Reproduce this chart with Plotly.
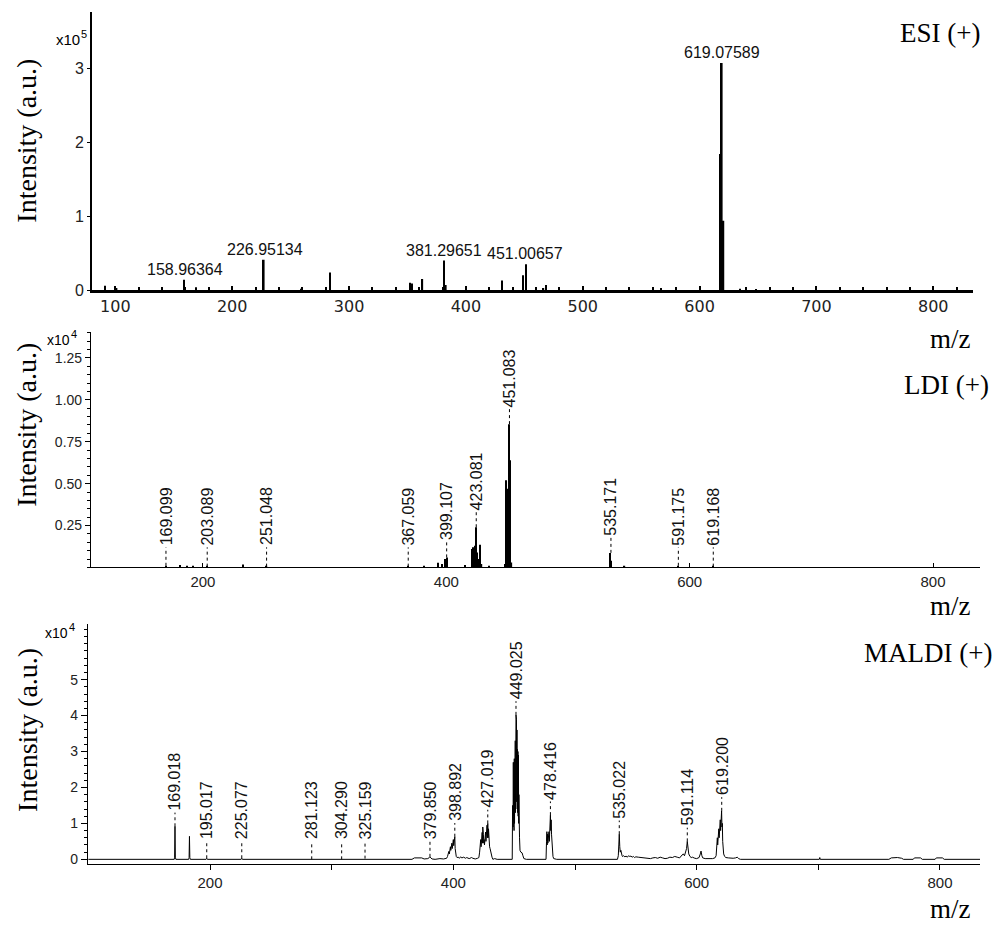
import plotly.graph_objects as go

# ---------------- data ----------------
# ESI (+) : stick spectrum, intensity in units of 1e5
esi_mz = [91, 101, 158.8, 169, 227.0, 259.4, 283.6, 352.3, 354.0, 362.7, 381.4, 382.8,
          431.0, 448.8, 451.4, 466.3, 468.6, 567, 617.6, 619.0, 620.4, 634.7, 648.4]
esi_int = [0.06, 0.03, 0.14, 0.04, 0.41, 0.02, 0.24, 0.10, 0.09, 0.15, 0.40, 0.07,
           0.13, 0.20, 0.35, 0.03, 0.07, 0.03, 1.84, 3.07, 0.94, 0.02, 0.015]
esi_label_text = ["158.96364", "226.95134", "381.29651", "451.00657", "619.07589"]
esi_label_mz = [159.3, 228.0, 381.0, 450.6, 619.0]
esi_label_int = [0.14, 0.41, 0.40, 0.35, 3.07]

# LDI (+) : stick spectrum, intensity in units of 1e4
ldi_mz = [169.6, 181.1, 186.6, 192.0, 203.5, 232.6, 252.3, 368.7, 381.9, 393.5, 396.7,
          398.9, 400.3, 415.3, 421.1, 422.2, 423.3, 424.3, 425.5, 426.8, 427.9, 429.0,
          435.1, 448.3, 449.4, 450.4, 451.6, 452.6, 453.6, 534.5, 535.6, 546.5, 590.7, 619.4]
ldi_int = [0.01, 0.015, 0.01, 0.01, 0.005, 0.018, 0.005, 0.005, 0.01, 0.028, 0.02,
           0.05, 0.06, 0.015, 0.11, 0.12, 0.13, 0.24, 0.09, 0.05, 0.135, 0.02,
           0.01, 0.02, 0.52, 0.47, 0.855, 0.64, 0.03, 0.087, 0.04, 0.01, 0.01, 0.005]
ldi_label_text = ["169.099", "203.089", "251.048", "367.059", "399.107", "423.081",
                  "451.083", "535.171", "591.175", "619.168"]
ldi_label_mz = [169.6, 203.5, 252.3, 368.7, 400.3, 424.6, 451.9, 535.3, 590.7, 619.4]
ldi_label_int = [0.01, 0.005, 0.005, 0.005, 0.06, 0.24, 0.855, 0.087, 0.01, 0.005]

# MALDI (+) : profile spectrum, intensity in units of 1e4
maldi_mz = [100, 170.6, 170.9, 171.2, 171.5, 171.9, 182.5, 182.8, 183.1, 183.4, 183.8,
            196.8, 197.3, 197.8, 225.6, 226.1, 226.6, 326.9, 327.4, 327.9,
            366, 368, 371, 374, 376, 379, 380.3, 380.8, 381.5, 382.5, 385, 389, 392,
            394.5, 395.2, 395.8, 396.3, 396.7, 397.0, 397.3, 397.6, 397.9, 398.2, 398.5,
            398.8, 399.1, 399.4, 399.7, 400.0, 400.3, 400.6, 400.9, 401.2, 401.5, 401.9,
            402.4, 403, 404, 405, 406, 407, 408.5, 410, 411, 413, 415, 416, 418, 420,
            421.0, 421.6, 421.9, 422.2, 422.5, 422.8, 423.1, 423.4, 423.7, 424.0, 424.2,
            424.4, 424.7, 425.0, 425.3, 425.6, 425.9, 426.2, 426.5, 426.8, 427.1, 427.4,
            427.7, 428.0, 428.3, 428.6, 428.9, 429.2, 429.5, 429.8, 430.2, 430.7, 431.2,
            431.8, 432.5, 434, 436,
            448.4, 448.7, 448.9, 449.1, 449.3, 449.5, 449.7, 449.9, 450.1, 450.3, 450.5,
            450.7, 450.9, 451.1, 451.3, 451.5, 451.7, 451.9, 452.1, 452.3, 452.5, 452.7,
            452.9, 453.1, 453.3, 453.5, 453.7, 453.9, 454.1, 454.4, 454.8, 455.5, 456.5,
            457.2, 458, 460,
            476.2, 476.6, 476.9, 477.1, 477.4, 477.7, 478.0, 478.3, 478.6, 478.9, 479.2,
            479.5, 479.8, 480.1, 480.4, 480.7, 481.0, 481.4, 481.9, 482.5, 485,
            534.9, 535.6, 536.0, 536.4, 536.8, 537.2, 537.7, 538.2, 538.7,
            539, 540, 541, 542, 543, 544, 545, 546, 547, 548, 549, 550, 552, 554, 556,
            558, 560, 562, 564, 566, 568, 570, 572, 574, 576, 578, 580, 582, 584, 586,
            588, 589, 590, 591.0, 591.7, 592.3, 592.9, 593.5, 594.5, 595.5, 596.5, 597.5,
            598.5, 600, 602, 603.0, 603.6, 604.3, 605, 607, 609, 611, 613, 615, 616,
            616.6, 617.0, 617.3, 617.6, 617.9, 618.2, 618.5, 618.8, 619.1, 619.4, 619.7,
            620.0, 620.3, 620.5, 620.8, 621.1, 621.4, 621.7, 622.2, 623, 624, 626, 628,
            630, 632, 633.4, 634.5, 636,
            700.8, 701.2, 701.6, 758, 760, 765, 768.5, 770, 778, 779, 784, 785.5,
            796, 797, 802, 803.5, 833]
maldi_int = [0, 0, 0.06, 0.92, 0.06, 0, 0, 0.05, 0.64, 0.05, 0,
             0, 0.03, 0, 0, 0.03, 0, 0, 0.02, 0,
             0, 0.04, 0.05, 0.04, 0.01, 0.02, 0.05, 0.07, 0.04, 0.01, 0.0, 0.02, 0.01,
             0.03, 0.08, 0.15, 0.22, 0.15, 0.30, 0.20, 0.35, 0.25, 0.40, 0.28,
             0.45, 0.30, 0.50, 0.35, 0.55, 0.38, 0.60, 0.40, 0.63, 0.30, 0.15,
             0.08, 0.05, 0.06, 0.03, 0.07, 0.04, 0.06, 0.03, 0.05, 0.02, 0.05, 0.03, 0.01, 0.03,
             0.05, 0.20, 0.40, 0.30, 0.55, 0.35, 0.60, 0.40, 0.75, 0.45, 0.90,
             0.50, 0.70, 0.45, 0.55, 0.40, 0.70, 0.45, 0.76, 0.50, 0.70, 0.55,
             0.95, 0.60, 1.00, 0.60, 0.85, 0.50, 0.60, 0.35, 0.30, 0.20, 0.12,
             0.06, 0.0, 0.02, 0.0,
             0.0, 1.5, 2.7, 0.9, 2.7, 1.2, 2.6, 0.8, 2.8, 1.0, 3.0,
             1.1, 3.3, 1.3, 3.8, 4.02, 1.5, 3.9, 1.6, 3.6, 1.4, 3.06,
             1.3, 3.0, 1.2, 2.9, 1.0, 1.8, 1.23, 0.6, 0.25, 0.2, 0.18,
             0.1, 0.02, 0.0,
             0.0, 0.5, 0.77, 0.4, 0.7, 0.45, 0.6, 0.45, 0.77, 0.5, 0.9,
             0.6, 1.23, 0.8, 1.1, 0.7, 0.4, 0.2, 0.08, 0.02, 0.0,
             0.0, 0.1, 0.4, 0.7, 0.35, 0.2, 0.25, 0.12, 0.1,
             0.08, 0.1, 0.07, 0.09, 0.06, 0.1, 0.08, 0.09, 0.06, 0.08, 0.05, 0.07, 0.06, 0.05, 0.04,
             0.02, 0.03, 0.02, 0.04, 0.05, 0.03, 0.06, 0.04, 0.02, 0.03, 0.06, 0.05, 0.08, 0.06, 0.04,
             0.12, 0.15, 0.1, 0.2, 0.3, 0.5, 0.2, 0.15, 0.08, 0.05, 0.06, 0.04,
             0.03, 0.02, 0.05, 0.15, 0.23, 0.1, 0.04, 0.02, 0.03, 0.02, 0.02, 0.04, 0.1,
             0.3, 0.6, 0.4, 0.75, 0.5, 0.85, 0.6, 0.95, 0.7, 1.1, 0.8,
             1.25, 0.9, 1.35, 0.9, 1.0, 0.5, 0.35, 0.15, 0.08, 0.05, 0.04, 0.03,
             0.03, 0.04, 0.06, 0.02, 0.0,
             0, 0.05, 0, 0, 0.04, 0.05, 0.03, 0, 0, 0.04, 0.04, 0,
             0, 0.04, 0.04, 0, 0]
maldi_label_text = ["169.018", "195.017", "225.077", "281.123", "304.290", "325.159",
                    "379.850", "398.892", "427.019", "449.025", "478.416", "535.022",
                    "591.114", "619.200"]
maldi_label_mz = [171.2, 197.3, 226.1, 283.6, 308.2, 327.4, 380.8, 401.2, 428.3,
                  451.5, 479.8, 536.4, 592.3, 620.6]
maldi_label_int = [0.92, 0.03, 0.03, 0.0, 0.0, 0.02, 0.07, 0.63, 1.0, 4.02, 1.23,
                   0.7, 0.5, 1.35]

esi_ticks = [100, 200, 300, 400, 500, 600, 700, 800]
ldi_xticks = [200, 400, 600, 800]
ldi_yticks = [0.25, 0.5, 0.75, 1.0, 1.25]
ldi_yticktext = ["0.25", "0.50", "0.75", "1.00", "1.25"]
maldi_xticks = [200, 400, 600, 800]
maldi_xminor = [300, 500, 700]
maldi_yticks = [0, 1, 2, 3, 4, 5]

# ---------------- layout helpers ----------------
W, H = 1001, 932
def PX(x):
    return x / W
def PY(y):
    return 1 - y / H

BLACK = "black"
SANS = "Arial, Liberation Sans, sans-serif"
SERIF = "Times New Roman, Liberation Serif, serif"

fig = go.Figure()

# ESI sticks
fig.add_trace(go.Bar(x=esi_mz, y=esi_int, width=1.4,
                     marker=dict(color=BLACK, line=dict(width=0)),
                     xaxis="x", yaxis="y", hoverinfo="x+y"))
# LDI sticks
fig.add_trace(go.Bar(x=ldi_mz, y=ldi_int, width=1.0,
                     marker=dict(color=BLACK, line=dict(width=0)),
                     xaxis="x2", yaxis="y2", hoverinfo="x+y"))
# MALDI profile
fig.add_trace(go.Scatter(x=maldi_mz, y=maldi_int, mode="lines",
                         line=dict(color=BLACK, width=1),
                         xaxis="x3", yaxis="y3", hoverinfo="x+y"))

annotations = []

# ESI peak labels
for t, m, h in zip(esi_label_text, esi_label_mz, esi_label_int):
    annotations.append(dict(x=m, y=h, xref="x", yref="y", text=t, showarrow=False,
                            xanchor="center", yanchor="bottom", yshift=0,
                            font=dict(family=SANS, size=16, color="#111")))

def leader_labels(texts, mzs, ints, off, minimum, xr, yr, fsize):
    lx, ly = [], []
    for t, m, h in zip(texts, mzs, ints):
        top = max(h + off, minimum)
        lx += [m, m, None]
        ly += [h, top, None]
        annotations.append(dict(x=m, y=top, xref=xr, yref=yr, text=t, textangle=-90,
                                showarrow=False, xanchor="center", yanchor="bottom",
                                font=dict(family=SANS, size=fsize, color="#111")))
    fig.add_trace(go.Scatter(x=lx, y=ly, mode="lines",
                             line=dict(color=BLACK, width=1, dash="3px,3px"),
                             xaxis=xr, yaxis=yr, hoverinfo="skip"))

leader_labels(ldi_label_text, ldi_label_mz, ldi_label_int, 0.09, 0.12, "x2", "y2", 16)
leader_labels(maldi_label_text, maldi_label_mz, maldi_label_int, 0.38, 0.5, "x3", "y3", 16)

# Panel texts
def ptext(x, y, text, size, family=SERIF, angle=0, xanchor="center", yanchor="middle"):
    annotations.append(dict(x=PX(x), y=PY(y), xref="paper", yref="paper", text=text,
                            showarrow=False, textangle=angle, xanchor=xanchor,
                            yanchor=yanchor, font=dict(family=family, size=size, color=BLACK)))

ptext(940, 33, "ESI (+)", 27)
ptext(950, 342, "m/z", 27)
ptext(946, 389, "LDI (+)", 27)
ptext(950, 612, "m/z", 27)
ptext(928, 659, "MALDI (+)", 27)
ptext(950, 918, "m/z", 27)
ptext(27, 142, "Intensity (a.u.)", 28, angle=-90)
ptext(27, 429, "Intensity (a.u.)", 28, angle=-90)
ptext(28, 737, "Intensity (a.u.)", 28, angle=-90)
# multiplier labels: base "x10" plus a raised exponent
ptext(82, 40, "x10", 15, family=SANS, xanchor="right")
ptext(79, 34, "5", 11, family=SANS, xanchor="left")
ptext(72, 343, "x10", 14, family=SANS, xanchor="right")
ptext(69, 337, "4", 11, family=SANS, xanchor="left")
ptext(70, 639, "x10", 14, family=SANS, xanchor="right")
ptext(67, 633, "4", 11, family=SANS, xanchor="left")

common = dict(showgrid=False, zeroline=False, showline=True, linecolor=BLACK,
              tickcolor=BLACK, fixedrange=True)

fig.update_layout(
    width=W, height=H, autosize=False,
    margin=dict(l=0, r=0, t=0, b=0),
    paper_bgcolor="white", plot_bgcolor="white",
    showlegend=False, barmode="overlay",
    annotations=annotations,
    # ---- ESI ----
    xaxis=dict(common, domain=[PX(92), PX(973)], range=[80, 834], anchor="y",
               tickmode="array", tickvals=esi_ticks, ticks="inside", ticklen=4,
               tickwidth=1.5, linewidth=2.5,
               minor=dict(tickmode="linear", tick0=0, dtick=20, ticks="inside",
                          ticklen=3, tickcolor=BLACK, showgrid=False),
               tickfont=dict(family="DejaVu Sans", size=16, color="#222")),
    yaxis=dict(common, domain=[PY(293), PY(12)], range=[0, 3.762], anchor="x",
               tickmode="array", tickvals=[0, 1, 2, 3], ticks="outside", ticklen=3,
               linewidth=2,
               tickfont=dict(family=SANS, size=16, color="#222")),
    # ---- LDI ----
    xaxis2=dict(common, domain=[PX(91), PX(980)], range=[108, 838.6], anchor="y2",
                tickmode="array", tickvals=ldi_xticks, ticks="inside", ticklen=4,
                linewidth=1.2,
                tickfont=dict(family=SANS, size=15, color="#222")),
    yaxis2=dict(common, domain=[PY(573), PY(335)], range=[0, 1.406], anchor="x2",
                tickmode="array", tickvals=ldi_yticks, ticktext=ldi_yticktext,
                ticks="outside", ticklen=5, linewidth=1.2,
                minor=dict(tickmode="linear", tick0=0, dtick=0.05, ticks="outside",
                           ticklen=3, tickcolor=BLACK, showgrid=False),
                tickfont=dict(family=SANS, size=14, color="#222")),
    # ---- MALDI ----
    xaxis3=dict(common, domain=[PX(88), PX(980)], range=[99.7, 832.9], anchor="y3",
                tickmode="array", tickvals=maldi_xticks,
                ticks="outside", ticklen=5, linewidth=1.2,
                minor=dict(tickmode="array", tickvals=maldi_xminor, ticks="outside",
                           ticklen=5, tickcolor=BLACK, showgrid=False),
                tickfont=dict(family=SANS, size=15, color="#222")),
    yaxis3=dict(common, domain=[PY(872), PY(630)], range=[-0.118, 6.55], anchor="x3",
                tickmode="array", tickvals=maldi_yticks, ticks="outside", ticklen=6,
                linewidth=1.2,
                minor=dict(tickmode="linear", tick0=0, dtick=0.2, ticks="outside",
                           ticklen=3, tickcolor=BLACK, showgrid=False),
                tickfont=dict(family=SANS, size=14, color="#222")),
)

fig.write_html("out.html")
